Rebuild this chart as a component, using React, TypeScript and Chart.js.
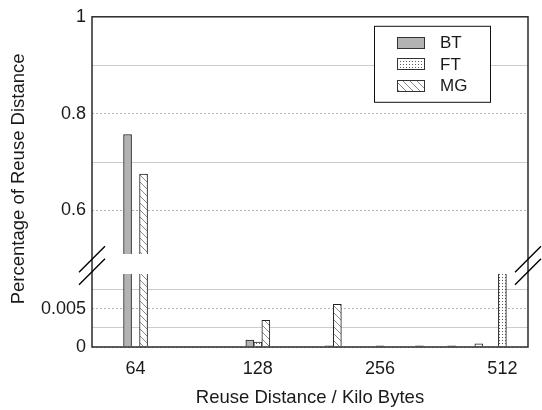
import React, { useEffect, useRef } from "react";
import { Chart, registerables } from "chart.js";

Chart.register(...registerables);

// ---- data ----
const DISTANCES = [64, 128, 192, 256, 320, 384, 448, 512];
const X_TICKS = [64, 128, 256, 512];
const SERIES_NAMES = ["BT", "FT", "MG"];
const BT = [0.757, 0.0009, 0, 0, 0, 0, 0, 0];
const FT = [0, 0.00065, 0.00015, 0.00015, 0.00015, 0.00015, 0.0004, 0.2];
const MG = [0.675, 0.0035, 0.0056, 0, 0, 0, 0, 0];
const UPPER_RANGE = [0.51, 1];
const LOWER_RANGE = [0, 0.0096];
const UPPER_TICKS = [0.6, 0.7, 0.8, 0.9, 1];
const UPPER_TICK_LABELS = ["0.6", "", "0.8", "", "1"];
const LOWER_TICKS = [0, 0.0025, 0.005, 0.0075];
const LOWER_TICK_LABELS = ["0", "", "0.005", ""];
const X_TITLE = "Reuse Distance / Kilo Bytes";
const Y_TITLE = "Percentage of Reuse Distance";

const FONT = "'Liberation Sans', Arial, Helvetica, sans-serif";
const TEXT = "#1a1a1a";

function makeDots(): HTMLCanvasElement {
  const c = document.createElement("canvas");
  c.width = 3;
  c.height = 3;
  const g = c.getContext("2d")!;
  g.fillStyle = "#ffffff";
  g.fillRect(0, 0, 3, 3);
  g.fillStyle = "#5a5a5a";
  g.fillRect(1, 1, 1, 1);
  return c;
}

function makeHatch(): HTMLCanvasElement {
  const s = 7;
  const c = document.createElement("canvas");
  c.width = s;
  c.height = s;
  const g = c.getContext("2d")!;
  g.fillStyle = "#ffffff";
  g.fillRect(0, 0, s, s);
  g.strokeStyle = "#8a8a8a";
  g.lineWidth = 1;
  g.beginPath();
  for (const o of [-s, 0, s]) {
    g.moveTo(o, 0);
    g.lineTo(o + s, s);
  }
  g.stroke();
  return c;
}

export default function App() {
  const ref = useRef<HTMLCanvasElement | null>(null);

  useEffect(() => {
    const canvas = ref.current!;
    const ctx = canvas.getContext("2d")!;
    const dots = ctx.createPattern(makeDots(), "repeat")!;
    const hatch = ctx.createPattern(makeHatch(), "repeat")!;

    const series = [
      { name: SERIES_NAMES[0], values: BT, fill: "#b3b3b3" as any },
      { name: SERIES_NAMES[1], values: FT, fill: dots as any },
      { name: SERIES_NAMES[2], values: MG, fill: hatch as any },
    ];

    const datasets: any[] = [];
    series.forEach((s) => {
      datasets.push({
        label: s.name,
        stack: s.name,
        yAxisID: "yHigh",
        data: DISTANCES.map((d, j) => ({
          x: d,
          y: s.values[j] >= UPPER_RANGE[0] ? Math.min(s.values[j], UPPER_RANGE[1]) : null,
        })),
        backgroundColor: s.fill,
        borderColor: "#222222",
        borderWidth: 1,
        barThickness: 8,
      });
      datasets.push({
        label: s.name,
        stack: s.name,
        yAxisID: "yLow",
        data: DISTANCES.map((d, j) => ({ x: d, y: Math.min(s.values[j], LOWER_RANGE[1]) })),
        backgroundColor: s.fill,
        borderColor: "#222222",
        borderWidth: (c: any) =>
          c.raw && c.raw.y >= LOWER_RANGE[1] ? { left: 1, right: 1, top: 0, bottom: 0 } : 1,
        barThickness: 8,
      });
    });

    const gridColor = (labels: string[], ticks: number[]) => (c: any) => {
      if (!c.tick) return "#c8c8c8";
      const i = ticks.indexOf(c.tick.value);
      return i >= 0 && labels[i] ? "#b4b4b4" : "#cccccc";
    };
    const gridDash = (labels: string[], ticks: number[]) => (c: any) => {
      if (!c.tick) return [];
      const i = ticks.indexOf(c.tick.value);
      return i >= 0 && labels[i] ? [2, 2] : [];
    };

    const yAxis = (
      range: number[],
      ticks: number[],
      labels: string[],
      weight: number
    ): any => ({
      type: "linear",
      position: "left",
      stack: "y",
      stackWeight: weight,
      stacked: false,
      min: range[0],
      max: range[1],
      afterBuildTicks: (sc: any) => {
        sc.ticks = ticks.map((v) => ({ value: v }));
      },
      afterFit: (sc: any) => {
        sc.width = 92;
      },
      ticks: {
        autoSkip: false,
        padding: 6,
        color: TEXT,
        font: { family: FONT, size: 18 },
        callback: (v: number) => {
          const i = ticks.indexOf(v);
          return i >= 0 ? labels[i] : "";
        },
      },
      grid: {
        drawTicks: false,
        color: gridColor(labels, ticks),
        lineWidth: 1,
      },
      border: { display: false, dash: gridDash(labels, ticks) },
    });

    const decor = {
      id: "decor",
      afterDraw(chart: any) {
        const c = chart.ctx;
        const ca = chart.chartArea;
        c.save();
        // frame
        c.strokeStyle = "#2a2a2a";
        c.lineWidth = 1.5;
        c.strokeRect(ca.left, ca.top, ca.right - ca.left, ca.bottom - ca.top);

        // break marks
        const gap = chart.scales.yGap;
        const gy = (gap.top + gap.bottom) / 2 + 1.5;
        c.strokeStyle = "#000000";
        c.lineWidth = 1.4;
        c.beginPath();
        for (const x of [ca.left, ca.right]) {
          for (const dy of [-6.3, 6.3]) {
            c.moveTo(x - 13, gy + dy + 13);
            c.lineTo(x + 13, gy + dy - 13);
          }
        }
        c.stroke();

        // legend
        const lx = ca.right - 154;
        const ly = ca.top + 9;
        const lw = 116;
        const lh = 76;
        c.fillStyle = "#ffffff";
        c.fillRect(lx, ly, lw, lh);
        c.strokeStyle = "#111111";
        c.lineWidth = 1;
        c.strokeRect(lx + 0.5, ly + 0.5, lw, lh);
        c.font = `17px ${FONT}`;
        c.textAlign = "left";
        c.textBaseline = "middle";
        series.forEach((s, i) => {
          const cy = ly + 17 + i * 21.5;
          c.fillStyle = s.fill;
          c.fillRect(lx + 23, Math.round(cy - 6), 28, 12);
          c.strokeStyle = "#333333";
          c.strokeRect(lx + 23.5, Math.round(cy - 6) + 0.5, 27, 11);
          c.fillStyle = TEXT;
          c.fillText(s.name, lx + 66, cy + 1);
        });

        // y title
        c.translate(19, (ca.top + ca.bottom) / 2 - 3);
        c.rotate(-Math.PI / 2);
        c.font = `18.5px ${FONT}`;
        c.textAlign = "center";
        c.textBaseline = "middle";
        c.fillStyle = TEXT;
        c.fillText(Y_TITLE, 0, 0);
        c.restore();
      },
    };

    const chart = new Chart(canvas, {
      type: "bar",
      data: { datasets },
      options: {
        responsive: false,
        animation: false,
        devicePixelRatio: 1,
        events: [],
        layout: { autoPadding: false, padding: { left: 0, top: 13, right: 14, bottom: 0 } } as any,
        plugins: { legend: { display: false }, tooltip: { enabled: false } },
        scales: {
          x: {
            type: "logarithmic",
            min: 50,
            max: 592,
            offset: false,
            grid: { display: false, offset: false },
            border: { display: false },
            afterBuildTicks: (sc: any) => {
              sc.ticks = X_TICKS.map((v) => ({ value: v }));
            },
            afterFit: (sc: any) => {
              sc.height = 63;
            },
            ticks: {
              autoSkip: false,
              maxRotation: 0,
              padding: 3,
              color: TEXT,
              font: { family: FONT, size: 18 },
              callback: (v: number) => String(v),
            },
            title: {
              display: true,
              text: X_TITLE,
              color: TEXT,
              font: { family: FONT, size: 18.5 },
              padding: { top: 0, bottom: 1 },
            },
          } as any,
          yLow: yAxis(LOWER_RANGE, LOWER_TICKS, LOWER_TICK_LABELS, 74),
          yGap: {
            type: "linear",
            position: "left",
            stack: "y",
            stackWeight: 20,
            afterFit: (sc: any) => {
              sc.width = 92;
            },
            ticks: { display: false },
            grid: { display: false },
            border: { display: false },
          } as any,
          yHigh: yAxis(UPPER_RANGE, UPPER_TICKS, UPPER_TICK_LABELS, 240),
        },
      },
      plugins: [decor],
    });

    return () => chart.destroy();
  }, []);

  return (
    <div style={{ position: "absolute", left: 0, top: 0, width: 542, height: 410, background: "#fff" }}>
      <canvas ref={ref} width={542} height={410} style={{ display: "block" }} />
    </div>
  );
}
